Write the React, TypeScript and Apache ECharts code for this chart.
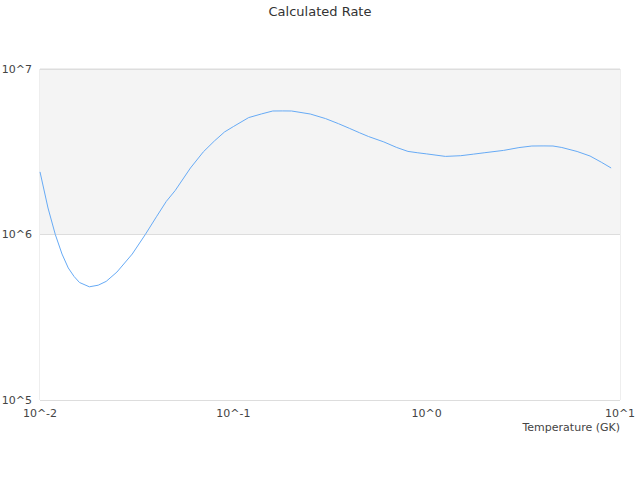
import React, { useEffect, useRef } from "react";
import * as echarts from "echarts";

const temperatures = [
  0.01, 0.011, 0.012, 0.013, 0.014, 0.015, 0.016, 0.018, 0.02, 0.022, 0.025,
  0.03, 0.035, 0.04, 0.045, 0.05, 0.06, 0.07, 0.08, 0.09, 0.1, 0.12, 0.14,
  0.16, 0.18, 0.2, 0.25, 0.3, 0.35, 0.4, 0.45, 0.5, 0.6, 0.7, 0.8, 0.9, 1.0,
  1.25, 1.5, 1.75, 2, 2.5, 3, 3.5, 4, 4.5, 5, 6, 7, 8, 9,
];

const rates = [
  2.39e6, 1.446e6, 1.0e6, 7.62e5, 6.28e5, 5.58e5, 5.13e5, 4.83e5, 4.94e5,
  5.21e5, 5.93e5, 7.62e5, 9.97e5, 1.279e6, 1.585e6, 1.842e6, 2.522e6, 3.16e6,
  3.683e6, 4.163e6, 4.487e6, 5.085e6, 5.354e6, 5.575e6, 5.58e6, 5.575e6,
  5.346e6, 5.015e6, 4.672e6, 4.371e6, 4.117e6, 3.909e6, 3.627e6, 3.355e6,
  3.178e6, 3.117e6, 3.069e6, 2.964e6, 2.993e6, 3.06e6, 3.121e6, 3.222e6,
  3.35e6, 3.425e6, 3.43e6, 3.425e6, 3.355e6, 3.174e6, 2.98e6, 2.735e6, 2.522e6,
];

const titleText = "Calculated Rate";
const xAxisName = "Temperature (GK)";

const fmt = (v: number) => "10^" + Math.round(Math.log10(v));

export default function App() {
  const ref = useRef<HTMLDivElement>(null);
  useEffect(() => {
    document.body.style.margin = "0";
    if (!ref.current) return;
    const chart = echarts.init(ref.current, null, { renderer: "svg" });
    const data = temperatures.map((t, i) => [t, rates[i]]);
    chart.setOption({
      animation: false,
      backgroundColor: "#fff",
      textStyle: { fontFamily: "DejaVu Sans" },
      title: {
        text: titleText,
        left: "center",
        top: 0,
        textStyle: {
          fontSize: 13,
          fontWeight: "normal",
          color: "#333",
          fontFamily: "DejaVu Sans",
        },
      },
      grid: {
        left: 40,
        right: 20,
        top: 69,
        bottom: 80,
        show: true,
        borderColor: "#ddd",
        borderWidth: 1,
        backgroundColor: "transparent",
        containLabel: false,
        outerBoundsMode: "none",
      },
      xAxis: {
        type: "log",
        logBase: 10,
        min: 0.01,
        max: 10,
        name: xAxisName,
        nameLocation: "end",
        nameGap: 0,
        nameTextStyle: {
          fontSize: 11,
          color: "#444",
          align: "right",
          verticalAlign: "top",
          padding: [22, 0, 0, 0],
        },
        axisLine: { show: false },
        axisTick: { show: false },
        splitLine: { show: false },
        axisLabel: {
          fontSize: 11,
          color: "#444",
          margin: 8,
          formatter: fmt,
        },
      },
      yAxis: {
        type: "log",
        logBase: 10,
        min: 1e5,
        max: 1e7,
        axisLine: { show: false },
        axisTick: { show: false },
        splitLine: { show: true, lineStyle: { color: "#ddd" } },
        splitArea: {
          show: true,
          areaStyle: { color: ["#ffffff", "#f4f4f4"] },
        },
        axisLabel: {
          fontSize: 11,
          color: "#444",
          margin: 8,
          formatter: fmt,
        },
      },
      series: [
        {
          type: "line",
          data,
          symbol: "none",
          smooth: false,
          lineStyle: { color: "#66aaf5", width: 1 },
          itemStyle: { color: "#66aaf5" },
        },
      ],
    });
    return () => chart.dispose();
  }, []);
  return <div ref={ref} style={{ width: 640, height: 480 }} />;
}
